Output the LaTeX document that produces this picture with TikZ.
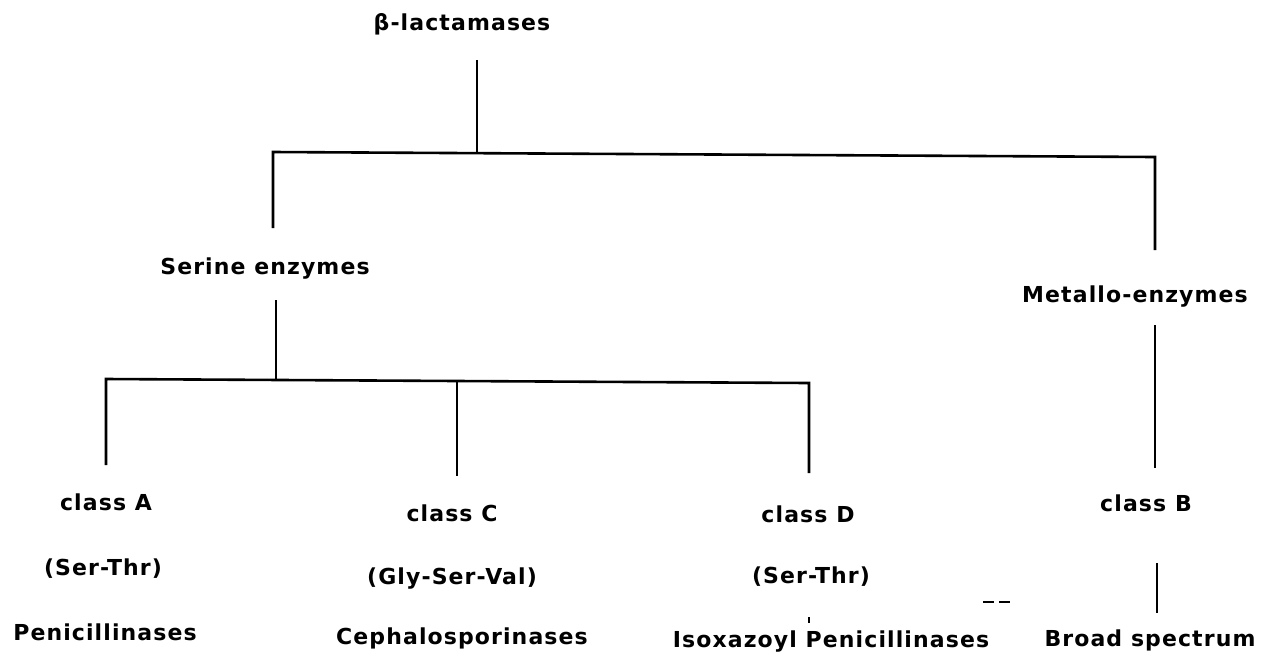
\documentclass[tikz,border=0pt]{standalone}
\usepackage{fontspec}
\setmainfont{DejaVu Sans}[LetterSpace=5]
\begin{document}
\begin{tikzpicture}[x=1pt,y=-1pt,
  lbl/.style={font=\bfseries\fontsize{22}{26}\selectfont, anchor=base, inner sep=0pt},
  conn/.style={line width=2.6pt, line cap=butt},
  junk/.style={line width=2pt, dashed, dash pattern=on 11pt off 5pt}]
\useasboundingbox[fill=white] (0,0) rectangle (1279,665);

% labels
\node[lbl] (root)  at (462,30)  {β-lactamases};
\node[lbl] (ser)   at (265,274) {Serine enzymes};
\node[lbl] (met)   at (1135,302) {Metallo-enzymes};
\node[lbl] (ca)    at (106,510) {class A};
\node[lbl] (cc)    at (452,521) {class C};
\node[lbl] (cd)    at (808,522) {class D};
\node[lbl] (cb)    at (1146,511) {class B};
\node[lbl] (sa)    at (103,575) {(Ser-Thr)};
\node[lbl] (sc)    at (452,584) {(Gly-Ser-Val)};
\node[lbl] (sd)    at (811,583) {(Ser-Thr)};
\node[lbl] (pa)    at (105,640) {Penicillinases};
\node[lbl] (pc)    at (462,644) {Cephalosporinases};
\node[lbl] (pd)    at (831,647) {Isoxazoyl Penicillinases};
\node[lbl] (pb)    at (1150,646) {Broad spectrum};

% junction points
\coordinate (r0) at (477,60);
\coordinate (r1) at (477,153);
\coordinate (hL) at (273,152);
\coordinate (hR) at (1155,157);
\coordinate (sL) at (273,228);
\coordinate (mT) at (1155,250);
\coordinate (s0) at (276,300);
\coordinate (s1) at (276,380);
\coordinate (gL) at (106,379);
\coordinate (gC) at (457,381);
\coordinate (gR) at (809,383);
\coordinate (aB) at (106,465);
\coordinate (cB) at (457,476);
\coordinate (dB) at (809,473);
\coordinate (m0) at (1155,325);
\coordinate (m1) at (1155,468);
\coordinate (b0) at (1157,563);
\coordinate (b1) at (1157,613);
\coordinate (d0) at (809,617);
\coordinate (d1) at (809,623);
\coordinate (x0) at (983,602);
\coordinate (x1) at (1011,602);

% connectors
\draw[conn] (r0) -- (r1);
\draw[conn] (sL) -- (hL) -- (hR) -- (mT);
\draw[conn] (s0) -- (s1);
\draw[conn] (aB) -- (gL) -- (gR) -- (dB);
\draw[conn] (gC) -- (cB);
\draw[conn] (m0) -- (m1);
\draw[conn] (b0) -- (b1);
\draw[line width=2pt] (d0) -- (d1);
\draw[junk] (x0) -- (x1);
\end{tikzpicture}
\end{document}
